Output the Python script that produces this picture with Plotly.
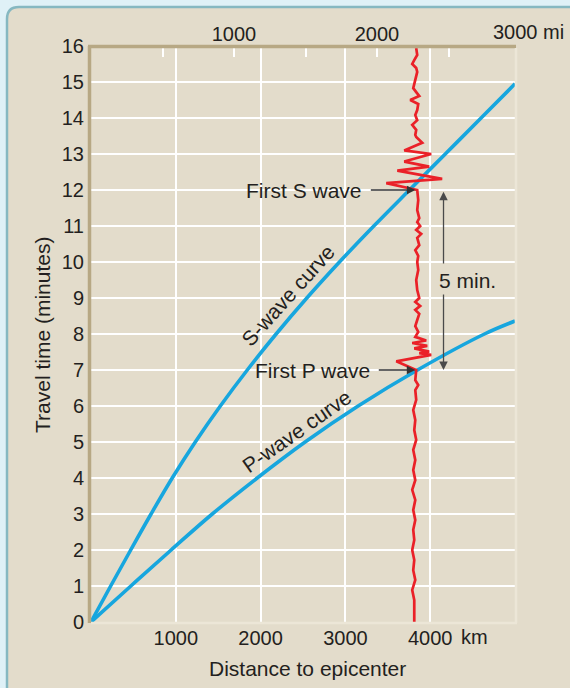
import plotly.graph_objects as go

# ---------------- data ----------------
p_time = [0, 1, 2, 3, 4, 5, 6, 7, 8, 8.36]
p_km = [0, 470, 945, 1430, 1960, 2525, 3150, 3850, 4640, 5000]

s_time = [0, 1, 2, 3, 4, 5, 6, 7, 8, 9, 10, 11, 12, 13, 14, 14.95]
s_km = [0, 232, 468, 708, 958, 1230, 1525, 1843, 2183, 2545, 2930, 3335, 3755, 4178, 4600, 5000]

# seismogram trace (travel time in minutes, distance in km)
seis_time = [15.94, 15.75, 15.61, 15.5, 15.39, 15.28, 15.06, 14.83, 14.72, 14.61, 14.5, 14.39,
             14.22, 14.08, 13.94, 13.81, 13.67, 13.53, 13.47,
             13.31, 13.1, 13.0, 12.79, 12.65, 12.54, 12.31, 12.19, 12.0,
             11.72, 11.44, 11.22, 11.11, 11.0, 10.89, 10.78, 10.67, 10.47, 10.33, 10.17, 10.0,
             9.78, 9.5, 9.22, 9.0, 8.89, 8.78, 8.67, 8.56, 8.39, 8.22, 8.06, 7.92,
             7.82, 7.75, 7.67, 7.6, 7.51, 7.47, 7.42, 7.24, 7.0,
             6.72, 6.58, 6.44, 6.17, 5.89, 5.61, 5.33, 5.06, 4.78, 4.5, 4.22, 3.94, 3.67,
             3.39, 3.11, 2.83, 2.56, 2.28, 2.0, 1.72, 1.44, 1.17, 0.89, 0.61, 0.0]
seis_km = [3835, 3847, 3812, 3788, 3835, 3847, 3824, 3800, 3835, 3871, 3765, 3859,
           3847, 3824, 3847, 3788, 3835, 3824, 3835,
           3906, 3694, 4012, 3694, 3988, 3612, 4141, 3482, 3847,
           3859, 3847, 3871, 3847, 3882, 3835, 3894, 3847, 3871, 3824, 3859, 3847,
           3859, 3835, 3847, 3871, 3824, 3882, 3824, 3871, 3847, 3824, 3859, 3824,
           3953, 3788, 3965, 3812, 3988, 3871, 4012, 3600, 3835,
           3824, 3859, 3824, 3835, 3800, 3824, 3812, 3835, 3800, 3824, 3800, 3824, 3788,
           3824, 3800, 3824, 3800, 3812, 3788, 3812, 3800, 3824, 3788, 3812, 3812]

km_ticks = [1000, 2000, 3000, 4000]
km_ticktext = ["1000", "2000", "3000", "4000"]
min_ticks = list(range(0, 17))
mi_ticks = [500, 1000, 1500, 2000, 2500]
mi_ticktext = ["", "1000", "", "2000", ""]

# ---------------- styling ----------------
W, H = 570, 688
L, R, T, B = 91, 55, 46, 66
PW, PH = W - L - R, H - T - B
TXT = "#231f20"
FONT = "Liberation Sans, Arial, Helvetica, sans-serif"
BLUE = "#17a6de"
RED = "#ea2128"


def px_x(px):
    return (px - L) / PW


def px_y(py):
    return (H - B - py) / PH


fig = go.Figure()

fig.add_trace(go.Scatter(x=s_km, y=s_time, mode="lines",
                         line=dict(color=BLUE, width=3.6, shape="spline", smoothing=1.0),
                         hoverinfo="skip", showlegend=False))
fig.add_trace(go.Scatter(x=p_km, y=p_time, mode="lines",
                         line=dict(color=BLUE, width=3.6, shape="spline", smoothing=1.0),
                         hoverinfo="skip", showlegend=False))
fig.add_trace(go.Scatter(x=seis_km, y=seis_time, mode="lines", line=dict(color=RED, width=2.7),
                         hoverinfo="skip", showlegend=False))
# helper trace so the miles axis is drawn
fig.add_trace(go.Scatter(x=[0, 2965], y=[0, 0], xaxis="x2", yaxis="y", mode="lines",
                         line=dict(width=0), opacity=0, hoverinfo="skip", showlegend=False))

# frame
frame_path = (f"M {px_x(7)},{px_y(720)} L {px_x(7)},{px_y(19)} "
              f"Q {px_x(7)},{px_y(7)} {px_x(19)},{px_y(7)} "
              f"L {px_x(640)},{px_y(7)} L {px_x(640)},{px_y(720)} Z")
shapes = [
    dict(type="path", xref="paper", yref="paper", path=frame_path, fillcolor="#e3dccb",
         line=dict(color="#86b8c1", width=2.5), layer="below"),
    # bevel edges of the plot area
    dict(type="line", xref="paper", yref="paper", x0=px_x(88), x1=px_x(516), y0=px_y(46.5), y1=px_y(46.5),
         line=dict(color="#b7a884", width=3.5), layer="above"),
    dict(type="line", xref="paper", yref="paper", x0=px_x(89.5), x1=px_x(89.5), y0=px_y(46), y1=px_y(623),
         line=dict(color="#b7a884", width=3.5), layer="above"),
    dict(type="line", xref="paper", yref="paper", x0=px_x(91), x1=px_x(517), y0=px_y(623), y1=px_y(623),
         line=dict(color="#ece6d7", width=2.5), layer="above"),
    dict(type="line", xref="paper", yref="paper", x0=px_x(516), x1=px_x(516), y0=px_y(48), y1=px_y(623),
         line=dict(color="#ece6d7", width=2.5), layer="above"),
]

afont = dict(family=FONT, size=21, color=TXT)
annotations = [
    dict(text="First S wave", x=3224, y=12, xref="x", yref="y", xanchor="right", yanchor="middle",
         showarrow=False, font=afont),
    dict(text="", x=3825, y=12, ax=3282, ay=12, xref="x", yref="y", axref="x", ayref="y",
         showarrow=True, arrowhead=2, arrowsize=1.3, arrowwidth=1.3, arrowcolor="#333333", standoff=0),
    dict(text="First P wave", x=3318, y=7, xref="x", yref="y", xanchor="right", yanchor="middle",
         showarrow=False, font=afont),
    dict(text="", x=3824, y=7, ax=3376, ay=7, xref="x", yref="y", axref="x", ayref="y",
         showarrow=True, arrowhead=2, arrowsize=1.3, arrowwidth=1.3, arrowcolor="#333333", standoff=0),
    dict(text="5 min.", x=4082, y=9.5, xref="x", yref="y", xanchor="left", yanchor="middle",
         showarrow=False, font=afont),
    dict(text="", x=4157, y=11.95, ax=4157, ay=9.92, xref="x", yref="y", axref="x", ayref="y",
         showarrow=True, arrowhead=2, arrowsize=1.3, arrowwidth=1.3, arrowcolor="#4a4a4a", standoff=0),
    dict(text="", x=4157, y=7.0, ax=4157, ay=9.14, xref="x", yref="y", axref="x", ayref="y",
         showarrow=True, arrowhead=2, arrowsize=1.3, arrowwidth=1.3, arrowcolor="#4a4a4a", standoff=0),
    dict(text="S-wave curve", x=2318, y=9.08, xref="x", yref="y", textangle=-48,
         showarrow=False, font=afont),
    dict(text="P-wave curve", x=2420, y=5.3, xref="x", yref="y", textangle=-35,
         showarrow=False, font=afont),
    dict(text="3000 mi", x=px_x(566), y=px_y(32), xref="paper", yref="paper", xanchor="right",
         yanchor="middle", showarrow=False, font=dict(family=FONT, size=20, color=TXT)),
    dict(text="km", x=px_x(459), y=px_y(637), xref="paper", yref="paper", xanchor="left",
         yanchor="middle", showarrow=False, font=dict(family=FONT, size=20, color=TXT)),
    dict(text="Distance to epicenter", x=px_x(307), y=px_y(668), xref="paper", yref="paper",
         xanchor="center", yanchor="middle", showarrow=False, font=afont),
    dict(text="Travel time (minutes)", x=px_x(42), y=px_y(335), xref="paper", yref="paper",
         xanchor="center", yanchor="middle", textangle=-90, showarrow=False, font=afont),
]

tickfont = dict(family=FONT, size=20, color=TXT)
fig.update_layout(
    width=W, height=H,
    margin=dict(l=L, r=R, t=T, b=B, pad=0),
    paper_bgcolor="#dff1f7",
    plot_bgcolor="#cdc09e",
    showlegend=False,
    xaxis=dict(range=[0, 5000], tickvals=km_ticks, ticktext=km_ticktext, showgrid=True,
               gridcolor="white", gridwidth=2, zeroline=False, showline=False, ticks="",
               tickfont=tickfont, fixedrange=True, ticklabelstandoff=2),
    xaxis2=dict(range=[0, 2965], overlaying="x", side="top", anchor="y", tickvals=mi_ticks,
                ticktext=mi_ticktext, ticks="inside", ticklen=11, tickwidth=2, tickcolor="white",
                showgrid=False, zeroline=False, showline=False, tickfont=tickfont, fixedrange=True),
    yaxis=dict(range=[0, 16], tickvals=min_ticks, showgrid=True, gridcolor="white", gridwidth=2,
               zeroline=False, showline=False, ticks="", tickfont=tickfont, fixedrange=True,
               ticklabelstandoff=6),
    shapes=shapes,
    annotations=annotations,
)

fig.write_html("out.html", config={"displayModeBar": False},
               post_script="document.body.style.margin='0px';document.body.style.padding='0px';"
                           "document.body.style.overflow='hidden';")
